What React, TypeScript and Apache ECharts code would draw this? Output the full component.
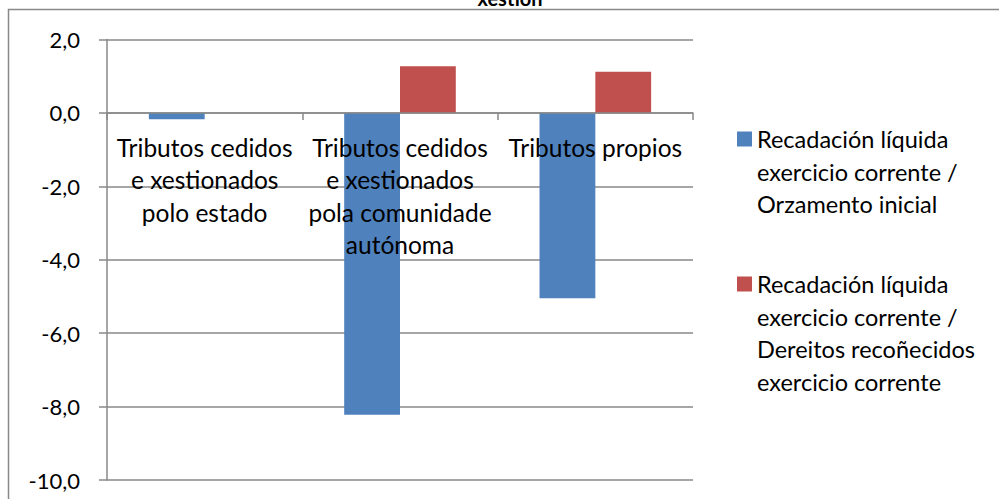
import React, { useEffect, useRef } from "react";
import * as echarts from "echarts";

const categories = [
  "Tributos cedidos e xestionados polo estado",
  "Tributos cedidos e xestionados pola comunidade autónoma",
  "Tributos propios",
];
const categoryLabels = [
  "Tributos cedidos\ne xestionados\npolo estado",
  "Tributos cedidos\ne xestionados\npola comunidade\nautónoma",
  "Tributos propios",
];
const seriesNames = [
  "Recadación líquida exercicio corrente / Orzamento inicial",
  "Recadación líquida exercicio corrente / Dereitos recoñecidos exercicio corrente",
];
const legendLabels = [
  "Recadación líquida\nexercicio corrente /\nOrzamento inicial",
  "Recadación líquida\nexercicio corrente /\nDereitos recoñecidos\nexercicio corrente",
];
const orzamentoInicial = [-0.17, -8.22, -5.05];
const dereitosRecoñecidos = [0, 1.27, 1.12];
const yTicks = [-10, -8, -6, -4, -2, 0, 2];

const FONT = "Lato";
const LINE_H = 32.5;
const GRAY = "#898989";

const GRID_TOP = 39.5;
const GRID_BOTTOM_Y = 480;

export default function App() {
  const ref = useRef<HTMLDivElement>(null);
  useEffect(() => {
    if (!ref.current) return;
    const chart = echarts.init(ref.current, undefined, { renderer: "svg" });
    const mkLegend = (i: number, iconCenter: number) => {
      const lines = legendLabels[i].split("\n").length;
      const total = 2 * lines - 1;
      const boxH = total * LINE_H;
      const padded = "\n".repeat(lines - 1) + legendLabels[i];
      return {
        data: [{ name: seriesNames[i] }],
        left: 737,
        top: iconCenter - boxH / 2,
        orient: "vertical",
        itemWidth: 15,
        itemHeight: 15,
        padding: 0,
        icon: "rect",
        selectedMode: false,
        formatter: () => padded,
        textStyle: {
          fontFamily: FONT,
          fontSize: 23.5,
          color: "#000",
          lineHeight: LINE_H,
        },
      };
    };
    const yMin = yTicks[0];
    const yMax = yTicks[yTicks.length - 1];
    const zeroY = GRID_TOP + ((yMax - 0) / (yMax - yMin)) * (GRID_BOTTOM_Y - GRID_TOP);
    const labelMargin = zeroY + 18 - GRID_BOTTOM_Y;
    chart.setOption({
      animation: false,
      backgroundColor: "#fff",
      title: {
        text: "xestión",
        left: 510,
        top: -12,
        padding: 0,
        textAlign: "center",
        textVerticalAlign: "top",
        textStyle: { fontFamily: FONT, fontSize: 20, fontWeight: "bold", color: "#000" },
      },
      graphic: [
        {
          type: "rect",
          z: -10,
          silent: true,
          shape: { x: 8.5, y: 9.5, width: 1200, height: 1000 },
          style: { fill: "none", stroke: GRAY, lineWidth: 1.5 },
        },
      ],
      legend: [mkLegend(0, 139), mkLegend(1, 284)],
      grid: {
        left: 107,
        right: 306,
        top: GRID_TOP,
        bottom: 499 - GRID_BOTTOM_Y,
        containLabel: false,
        outerBoundsMode: "none",
      },
      xAxis: {
        type: "category",
        data: categories,
        z: 5,
        axisLine: { onZero: true, lineStyle: { color: GRAY, width: 1.5 } },
        axisTick: { show: true, length: 7, lineStyle: { color: GRAY, width: 1.5 } },
        axisLabel: {
          interval: 0,
          margin: labelMargin,
          fontFamily: FONT,
          fontSize: 24.5,
          lineHeight: LINE_H,
          color: "#000",
          verticalAlign: "top",
          formatter: (v: string) => categoryLabels[categories.indexOf(v)] ?? v,
        },
      },
      yAxis: {
        type: "value",
        min: yMin,
        max: yMax,
        interval: 2,
        axisLine: { show: true, lineStyle: { color: GRAY, width: 1.5 } },
        axisTick: { show: true, length: 8, lineStyle: { color: GRAY, width: 1.5 } },
        splitLine: { show: true, lineStyle: { color: GRAY, width: 1.5 } },
        axisLabel: {
          margin: 27,
          fontFamily: FONT,
          fontSize: 22,
          color: "#000",
          formatter: (v: number) => v.toFixed(1).replace(".", ","),
        },
      },
      series: [
        {
          name: seriesNames[0],
          type: "bar",
          data: orzamentoInicial,
          itemStyle: { color: "#4F81BD" },
          barGap: "0%",
          barCategoryGap: "42.86%",
        },
        {
          name: seriesNames[1],
          type: "bar",
          data: dereitosRecoñecidos,
          itemStyle: { color: "#C0504D" },
          barGap: "0%",
          barCategoryGap: "42.86%",
        },
      ],
    });
    return () => chart.dispose();
  }, []);
  return (
    <div
      ref={ref}
      style={{ position: "absolute", left: 0, top: 0, width: 999, height: 499 }}
    />
  );
}
